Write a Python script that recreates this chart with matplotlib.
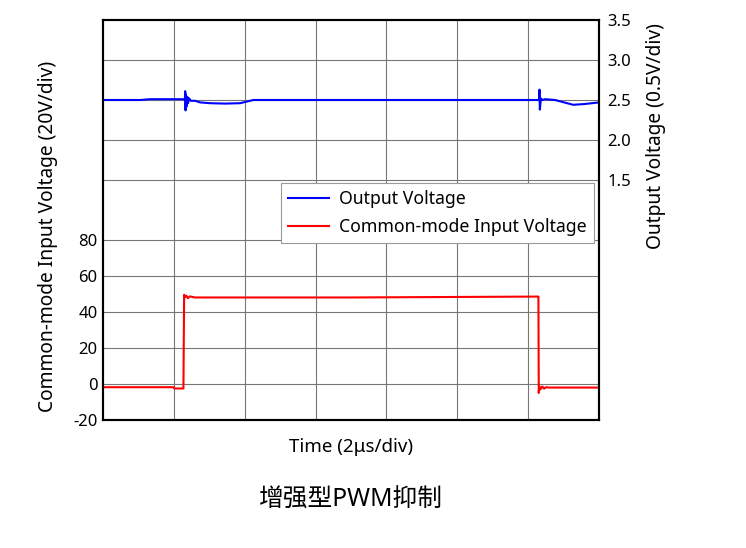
import matplotlib
matplotlib.use("Agg")
import matplotlib.pyplot as plt

plt.rcParams['font.family'] = ['Noto Sans', 'Noto Sans CJK SC', 'DejaVu Sans']

# time in us (7 div x 2us)
t_out = [0.0, 1.05, 1.33, 2.26, 2.31, 2.32, 2.33, 2.34, 2.36, 2.38, 2.40, 2.43, 2.48, 2.60,
         2.74, 3.02, 3.45, 3.87, 4.15, 4.24, 8.0, 12.25, 12.31, 12.32, 12.33, 12.36, 12.40,
         12.48, 12.76, 13.27, 13.60, 14.0]
v_out = [2.50, 2.50, 2.51, 2.51, 2.50, 2.61, 2.37, 2.57, 2.42, 2.54, 2.46, 2.52, 2.49, 2.49,
         2.47, 2.46, 2.455, 2.46, 2.49, 2.50, 2.50, 2.50, 2.50, 2.63, 2.38, 2.52, 2.50,
         2.51, 2.50, 2.44, 2.45, 2.47]

t_in = [0.0, 2.00, 2.01, 2.27, 2.29, 2.31, 2.35, 2.40, 2.45, 2.60, 7.0, 12.26, 12.29, 12.30,
        12.31, 12.35, 12.40, 12.45, 12.50, 12.60, 14.0]
v_in = [-1.8, -1.8, -2.5, -2.5, 49.5, 48.0, 49.0, 47.6, 48.6, 48.0, 48.0, 48.5, 48.5, -5.0,
        -1.2, -3.0, -1.4, -2.6, -1.8, -2.0, -2.0]

left_ticks = [-20, 0, 20, 40, 60, 80]
right_ticks = [1.5, 2.0, 2.5, 3.0, 3.5]
x_ticks = [0, 2, 4, 6, 8, 10, 12, 14]

fig = plt.figure(figsize=(7.46, 5.48), dpi=100)
ax = fig.add_axes([103 / 746, 128 / 548, 496 / 746, 400 / 548])
ax2 = ax.twinx()

grid_col = '#777777'
for y in left_ticks[1:]:
    ax.axhline(y, color=grid_col, lw=0.8, zorder=0)
for y in right_ticks[:-1]:
    ax2.axhline(y, color=grid_col, lw=0.8, zorder=0)
for x in x_ticks[1:-1]:
    ax.axvline(x, color=grid_col, lw=0.8, zorder=0)

l_in, = ax.plot(t_in, v_in, color='#ff0000', lw=1.5, label='Common-mode Input Voltage')
l_out, = ax2.plot(t_out, v_out, color='#0000ff', lw=1.5, label='Output Voltage')

ax.set_xlim(0, 14)
ax.set_ylim(-20, 202)
ax2.set_ylim(-1.5, 3.5)
ax.set_xticks(x_ticks)
ax.set_xticklabels([])
ax.set_yticks(left_ticks)
ax.set_yticklabels([str(v) for v in left_ticks])
ax2.set_yticks(right_ticks)
ax2.set_yticklabels([f'{v:.1f}' for v in right_ticks])
ax.tick_params(length=0, labelsize=12, pad=4)
ax2.tick_params(length=0, labelsize=12, pad=6)

for a in (ax, ax2):
    for s in a.spines.values():
        s.set_linewidth(1.5)
        s.set_color('black')

ax.set_xlabel('Time (2μs/div)', fontsize=13.5, labelpad=9)
ax.set_ylabel('Common-mode Input Voltage (20V/div)', fontsize=13.8)
ax.yaxis.set_label_coords(-0.09, 0.46)
ax2.set_ylabel('Output Voltage (0.5V/div)', fontsize=13.8)
ax2.yaxis.set_label_coords(1.095, 0.71)

leg = ax2.legend([l_out, l_in], ['Output Voltage', 'Common-mode Input Voltage'],
                 loc='upper right', bbox_to_anchor=(0.99, 0.5925), borderaxespad=0,
                 fontsize=12.7, fancybox=False, framealpha=1, edgecolor='#999999',
                 handlelength=2.3, handletextpad=0.6, borderpad=0.4, labelspacing=0.55)
leg.get_frame().set_linewidth(0.8)

fig.text(351 / 746, 1 - 500 / 548, '增强型PWM抑制', fontsize=17.8, ha='center', va='center')

fig.savefig('out.png', dpi=100)
